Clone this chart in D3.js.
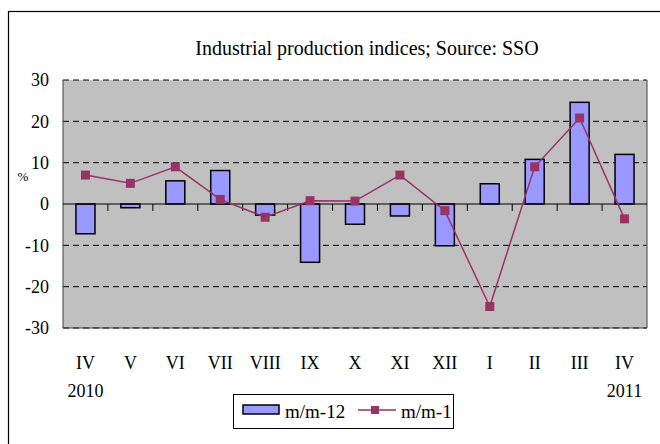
<!DOCTYPE html>
<html><head><meta charset="utf-8">
<script src="https://cdn.jsdelivr.net/npm/d3@7"></script>
<style>body{margin:0;background:#fff;} svg{display:block;}</style>
</head><body>
<svg id="c" width="660" height="444"></svg>
<script>
const months = ["IV","V","VI","VII","VIII","IX","X","XI","XII","I","II","III","IV"];
const years = ["2010","","","","","","","","","","","","2011"];
const yoy = [-7.2,-0.9,5.6,8.1,-2.7,-14.1,-4.9,-2.9,-10.1,4.9,10.8,24.6,12.0];
const mom = [7.0,5.0,9.0,1.1,-3.2,0.8,0.7,7.0,-1.6,-24.8,9.0,20.8,-3.6];
const yTicks = [30,20,10,0,-10,-20,-30];
const title = "Industrial production indices; Source: SSO";
const seriesNames = ["m/m-12","m/m-1"];

const font = "'Liberation Serif', serif";
const svg = d3.select("#c");
const L=63, R=647, T=80, B=328;
const idx = d3.range(months.length);
const x = d3.scaleBand().domain(idx).range([L,R]).paddingInner(0).paddingOuter(0);
const y = d3.scaleLinear().domain([-30,30]).range([B,T]);

// outer chart border
svg.append("rect").attr("x",8.5).attr("y",11.5).attr("width",700).attr("height",500)
  .attr("fill","#fff").attr("stroke","#000").attr("stroke-width",1.2);

// plot background
svg.append("rect").attr("x",L).attr("y",T).attr("width",R-L).attr("height",B-T).attr("fill","#C0C0C0");

// gridlines
svg.append("g").selectAll("line").data(yTicks.filter(d=>d!==0)).join("line")
  .attr("x1",L).attr("x2",R).attr("y1",d=>y(d)).attr("y2",d=>y(d))
  .attr("stroke","#000").attr("stroke-width",1).attr("stroke-dasharray","6,4");

// plot border left/right/bottom
svg.append("path").attr("d",`M${L},${T}V${B}H${R}V${T}`).attr("fill","none")
  .attr("stroke","#404040").attr("stroke-width",1);

// y axis labels
const yAxis = d3.axisLeft(y).tickValues(yTicks).tickSize(0).tickPadding(14).tickFormat(d=>String(d));
const ga = svg.append("g").attr("transform",`translate(${L},0)`).call(yAxis);
ga.select(".domain").remove();
ga.selectAll("text").attr("font-family",font).attr("font-size",18).attr("fill","#000");

svg.append("text").attr("x",23).attr("y",181).attr("text-anchor","middle")
  .attr("font-family",font).attr("font-size",13).text("%");

// bars
const bw = 19;
svg.append("g").selectAll("rect").data(yoy).join("rect")
  .attr("x",(d,i)=>x(i)+x.bandwidth()/2-bw/2)
  .attr("y",d=>y(Math.max(0,d)))
  .attr("width",bw)
  .attr("height",d=>Math.abs(y(d)-y(0)))
  .attr("fill","#9999FF").attr("stroke","#000").attr("stroke-width",1.5);

// zero axis with ticks at category boundaries
svg.append("line").attr("x1",L).attr("x2",R).attr("y1",y(0)).attr("y2",y(0)).attr("stroke","#000").attr("stroke-width",1.2);
svg.append("g").selectAll("line").data(idx.slice(1)).join("line")
  .attr("x1",d=>x(d)).attr("x2",d=>x(d)).attr("y1",y(0)).attr("y2",y(0)+7)
  .attr("stroke","#000").attr("stroke-width",1);

// line
const line = d3.line().x((d,i)=>x(i)+x.bandwidth()/2).y(d=>y(d));
svg.append("path").datum(mom).attr("d",line).attr("fill","none").attr("stroke","#993366").attr("stroke-width",1.5);
svg.append("g").selectAll("rect").data(mom).join("rect")
  .attr("x",(d,i)=>x(i)+x.bandwidth()/2-4.5).attr("y",d=>y(d)-4.5)
  .attr("width",9).attr("height",9).attr("fill","#993366");

// category labels
const gx = svg.append("g").attr("transform",`translate(0,${B})`).call(d3.axisBottom(x).tickSize(0).tickPadding(0).tickFormat(i=>months[i]));
gx.select(".domain").remove();
gx.selectAll("text").attr("font-family",font).attr("font-size",18).attr("fill","#000").attr("dy",null).attr("y",41);
svg.append("g").selectAll("text").data(idx.filter(i=>years[i])).join("text")
  .attr("x",i=>x(i)+x.bandwidth()/2).attr("y",397).attr("text-anchor","middle")
  .attr("font-family",font).attr("font-size",18).text(i=>years[i]);

// title
svg.append("text").attr("x",367).attr("y",55).attr("text-anchor","middle")
  .attr("font-family",font).attr("font-size",20).text(title);

// legend
const lg = svg.append("g");
lg.append("rect").attr("x",233.5).attr("y",394.5).attr("width",220).attr("height",34)
  .attr("fill","#fff").attr("stroke","#000").attr("stroke-width",1);
lg.append("rect").attr("x",243).attr("y",405).attr("width",36).attr("height",9)
  .attr("fill","#9999FF").attr("stroke","#000").attr("stroke-width",1.5);
lg.append("text").attr("x",285).attr("y",418).attr("font-family",font).attr("font-size",19).text(seriesNames[0]);
lg.append("line").attr("x1",358).attr("x2",396).attr("y1",410).attr("y2",410).attr("stroke","#993366").attr("stroke-width",1.5);
lg.append("rect").attr("x",371).attr("y",406).attr("width",8).attr("height",8).attr("fill","#993366");
lg.append("text").attr("x",401).attr("y",418).attr("font-family",font).attr("font-size",19).text(seriesNames[1]);
</script>
</body></html>
